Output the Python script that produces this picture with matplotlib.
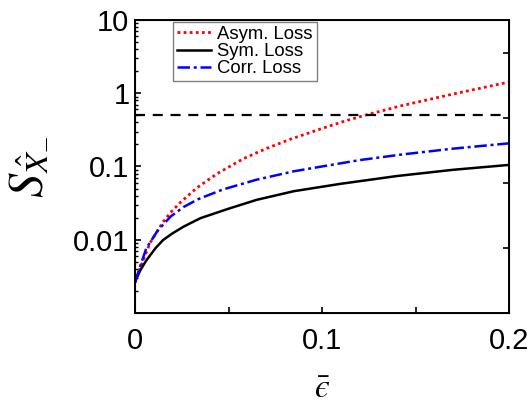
import numpy as np
import matplotlib
matplotlib.use("Agg")
import matplotlib.pyplot as plt

plt.rcParams['font.family'] = ['Liberation Sans', 'DejaVu Sans']
plt.rcParams['mathtext.fontset'] = 'stix'

# values (x = mean loss, y = S on log scale)
asym_x = [0, 0.003, 0.008, 0.015, 0.019, 0.024, 0.033, 0.044, 0.058, 0.07, 0.083,
          0.1, 0.112, 0.123, 0.142, 0.169, 0.2]
asym_y = [0.0026, 0.0043, 0.009, 0.0175, 0.0235, 0.0318, 0.051, 0.08, 0.128, 0.175,
          0.235, 0.33, 0.415, 0.5, 0.67, 0.96, 1.42]

sym_x = [0, 0.003, 0.006, 0.011, 0.015, 0.02, 0.026, 0.035, 0.05, 0.065, 0.085, 0.11,
         0.14, 0.17, 0.2]
sym_y = [0.0027, 0.0039, 0.0052, 0.0077, 0.0099, 0.0122, 0.0151, 0.0197, 0.0265,
         0.035, 0.046, 0.058, 0.074, 0.09, 0.105]

corr_x = [0, 0.002, 0.006, 0.012, 0.019, 0.026, 0.034, 0.047, 0.065, 0.085,
          0.1, 0.12, 0.142, 0.17, 0.2]
corr_y = [0.0026, 0.0038, 0.0076, 0.0132, 0.0207, 0.028, 0.036, 0.0485, 0.066,
          0.086, 0.1, 0.122, 0.145, 0.175, 0.207]

threshold = 0.5
xticks = [0, 0.1, 0.2]
xtick_labels = ['0', '0.1', '0.2']
yticks = [0.01, 0.1, 1, 10]
ytick_labels = ['0.01', '0.1', '1', '10']

fig = plt.figure(figsize=(5.32, 4.07), dpi=100)
ax = fig.add_axes([0.2538, 0.231, 0.703, 0.720])

ax.plot(asym_x, asym_y, color='red', linestyle=(0, (1, 1.2)), lw=2.0, label='Asym. Loss')
ax.plot(sym_x, sym_y, color='black', linestyle='-', lw=1.8, label='Sym. Loss')
ax.plot(corr_x, corr_y, color='blue', linestyle=(0, (5, 1.5, 1.2, 1.5)), lw=1.8,
        label='Corr. Loss')
ax.axhline(threshold, color='black', linestyle=(0, (4.5, 3.5)), lw=1.6)

ax.set_yscale('log')
ax.set_xlim(0, 0.2)
ax.set_ylim(0.001, 10)
ax.set_xticks(xticks)
ax.set_xticklabels(xtick_labels)
ax.set_xticks([0.05, 0.15], minor=True)
ax.set_yticks(yticks)
ax.set_yticklabels(ytick_labels)
ax.tick_params(axis='both', which='major', direction='in', labelsize=21, width=1.2)
ax.tick_params(axis='x', which='major', length=4, pad=10)
ax.tick_params(axis='x', which='minor', direction='in', length=4, width=1.2)
ax.tick_params(axis='y', which='major', length=4, pad=4)
ax.tick_params(axis='y', which='minor', direction='in', length=2.5, width=1.0)
for s in ax.spines.values():
    s.set_linewidth(1.4)

# right-hand axis ticks (unlabelled)
ax2 = ax.twinx()
ax2.set_ylim(0, 4.5)
ax2.set_yticks([1, 2, 3, 4])
ax2.set_yticklabels([])
ax2.tick_params(axis='y', direction='in', length=4, width=1.2)

ax.set_xlabel('$\\bar{\u03f5}$', fontsize=24, labelpad=14)
ax.set_ylabel(r'$S_{\hat{X}_{-}}$', fontsize=35, labelpad=18)

leg = ax.legend(loc='upper left', bbox_to_anchor=(0.1016, 0.993), borderaxespad=0,
                fontsize=13.3, fancybox=False, framealpha=1, edgecolor='gray',
                handlelength=1.85, handletextpad=0.35, labelspacing=0.02,
                borderpad=0.2)
leg.get_frame().set_linewidth(1.0)

fig.savefig('out.png', dpi=100)
